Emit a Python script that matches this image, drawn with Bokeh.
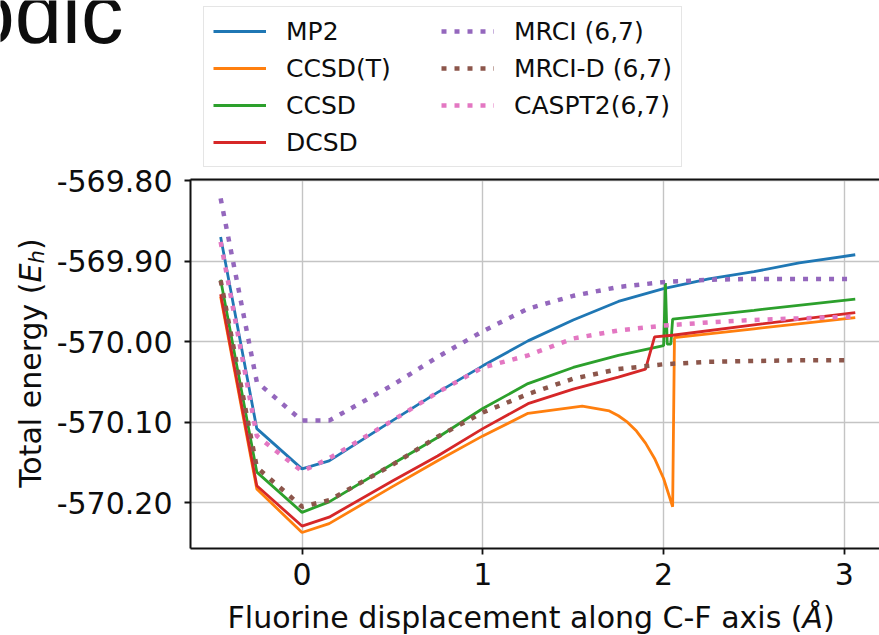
from bokeh.plotting import figure
from bokeh.models import (FixedTicker, PrintfTickFormatter, Legend, LegendItem, Label,
                          LinearAxis, Range1d)
from bokeh.embed import file_html
from bokeh.resources import INLINE
import math

# ---------------- data ----------------
x_common = [-0.45, -0.25, 0.0, 0.15, 0.5, 0.75, 1.0, 1.25, 1.5, 1.75, 2.0, 2.25, 2.5, 2.75, 3.06]

mp2_x = x_common
mp2_y = [-569.870, -570.108, -570.158, -570.148, -570.098, -570.063, -570.030, -569.999,
         -569.973, -569.950, -569.934, -569.922, -569.913, -569.902, -569.892]

ccsdt_x = [-0.45, -0.25, 0.0, 0.15, 0.5, 0.75, 1.0, 1.25, 1.55, 1.7, 1.75, 1.8, 1.85, 1.9,
           1.95, 2.0, 2.05, 2.06, 2.5, 3.06]
ccsdt_y = [-569.944, -570.183, -570.237, -570.226, -570.180, -570.148, -570.117, -570.089,
           -570.080, -570.086, -570.092, -570.100, -570.111, -570.126, -570.145, -570.170,
           -570.205, -569.995, -569.984, -569.970]

ccsd_x = [-0.45, -0.25, 0.0, 0.15, 0.5, 0.75, 1.0, 1.25, 1.5, 1.75, 2.0, 2.01, 2.02, 2.04,
          2.05, 2.5, 3.06]
ccsd_y = [-569.923, -570.162, -570.212, -570.199, -570.152, -570.119, -570.083, -570.052,
          -570.032, -570.017, -570.005, -569.927, -570.003, -570.003, -569.972, -569.961,
          -569.947]

dcsd_x = [-0.45, -0.25, 0.0, 0.15, 0.5, 0.75, 1.0, 1.25, 1.5, 1.75, 1.9, 1.95, 2.05, 2.5, 3.06]
dcsd_y = [-569.941, -570.179, -570.229, -570.218, -570.173, -570.142, -570.108, -570.077,
          -570.059, -570.044, -570.034, -569.994, -569.992, -569.979, -569.964]

mrci_x = [-0.45, -0.25, 0.0, 0.15, 0.5, 0.75, 1.0, 1.25, 1.5, 1.75, 2.0, 2.25, 2.5, 2.75, 3.05]
mrci_y = [-569.822, -570.050, -570.098, -570.098, -570.054, -570.019, -569.987, -569.959,
          -569.943, -569.932, -569.926, -569.923, -569.922, -569.922, -569.922]

mrcid_x = [-0.45, -0.25, 0.0, 0.15, 0.5, 0.75, 1.0, 1.25, 1.5, 1.75, 2.0, 2.25, 2.5, 2.75, 3.03]
mrcid_y = [-569.924, -570.156, -570.205, -570.197, -570.153, -570.118, -570.088, -570.065,
           -570.046, -570.034, -570.028, -570.025, -570.024, -570.023, -570.023]

caspt2_x = [-0.45, -0.25, 0.0, 0.15, 0.5, 0.75, 1.0, 1.25, 1.5, 1.75, 2.0, 2.25, 2.5, 2.75, 3.05]
caspt2_y = [-569.876, -570.117, -570.161, -570.145, -570.098, -570.063, -570.032, -570.017,
            -569.996, -569.986, -569.980, -569.976, -569.973, -569.971, -569.969]

x_ticks = [0, 1, 2, 3]
y_ticks = [-570.20, -570.10, -570.00, -569.90, -569.80]

labels_solid = ["MP2", "CCSD(T)", "CCSD", "DCSD"]
labels_dotted = ["MRCI (6,7)", "MRCI-D (6,7)", "CASPT2(6,7)"]

# axes box (data limits of the plotted area)
box_x = (-0.6167, 3.194)
box_y = (-570.2573, -569.7989)

# ---------------- figure ----------------
FONT = "DejaVu Sans"
TXT = "#0d0d0d"
W, H = 879, 635

p = figure(width=W, height=H, output_backend="svg", toolbar_location=None,
           x_range=Range1d(-1.6676, 3.1941), y_range=Range1d(-570.36497, -569.57615),
           min_border_left=0, min_border_right=0, min_border_top=0, min_border_bottom=0,
           x_axis_location=None, y_axis_location=None)
p.outline_line_color = None
p.background_fill_color = "white"
p.border_fill_color = "white"


def style_axis(ax):
    ax.axis_line_width = 2
    ax.axis_line_color = "#111111"
    ax.major_tick_out = 6
    ax.major_tick_in = 0
    ax.major_tick_line_width = 1.8
    ax.major_tick_line_color = "#111111"
    ax.minor_tick_line_color = None
    ax.major_label_text_font = FONT
    ax.major_label_text_font_size = "30px"
    ax.major_label_text_color = TXT


xax = LinearAxis(ticker=FixedTicker(ticks=x_ticks), fixed_location=box_y[0], bounds=box_x)
style_axis(xax)
xax.major_label_standoff = 8
p.add_layout(xax, "below")

yax = LinearAxis(ticker=FixedTicker(ticks=y_ticks), fixed_location=box_x[0], bounds=box_y,
                 formatter=PrintfTickFormatter(format="%.2f"))
style_axis(yax)
yax.major_label_standoff = 12
p.add_layout(yax, "left")

top = LinearAxis(ticker=FixedTicker(ticks=[]), fixed_location=box_y[1], bounds=box_x,
                 axis_line_width=2, axis_line_color="#111111", major_tick_line_color=None,
                 minor_tick_line_color=None, major_label_text_font_size="0px")
p.add_layout(top, "above")

p.xgrid.ticker = FixedTicker(ticks=x_ticks)
p.ygrid.ticker = FixedTicker(ticks=y_ticks)
p.xgrid.cross_bounds = box_y
p.ygrid.cross_bounds = box_x
p.grid.grid_line_color = "#c4c4c4"
p.grid.grid_line_width = 1.4

# ---------------- lines ----------------
SW = 2.8
DW = 4.5
DASH = "5 8"
r_mp2 = p.line(mp2_x, mp2_y, color="#1f77b4", line_width=SW)
r_ccsdt = p.line(ccsdt_x, ccsdt_y, color="#ff7f0e", line_width=SW)
r_ccsd = p.line(ccsd_x, ccsd_y, color="#2ca02c", line_width=SW)
r_dcsd = p.line(dcsd_x, dcsd_y, color="#d62728", line_width=SW)
r_mrci = p.line(mrci_x, mrci_y, color="#9467bd", line_width=DW, line_dash=DASH)
r_mrcid = p.line(mrcid_x, mrcid_y, color="#8c564b", line_width=DW, line_dash=DASH)
r_caspt2 = p.line(caspt2_x, caspt2_y, color="#e377c2", line_width=DW, line_dash=DASH)

renderers = [r_mp2, r_ccsdt, r_ccsd, r_dcsd, r_mrci, r_mrcid, r_caspt2]
items = [LegendItem(label=l, renderers=[r])
         for l, r in zip(labels_solid + labels_dotted, renderers)]
legend = Legend(items=items, location=(203, H - 167), ncols=2,
                label_text_font=FONT, label_text_font_size="25px", label_text_color=TXT,
                glyph_width=53, glyph_height=30, label_height=30, label_width=148,
                label_standoff=20, spacing=7, padding=9, margin=0,
                border_line_color="#cccccc", border_line_width=1.5,
                background_fill_color="white", background_fill_alpha=1.0)
p.add_layout(legend)


# ---------------- titles (screen units, canvas = frame) ----------------
def lab(text, x, y, size="30px", style="normal", angle=0.0, align="left", font=FONT):
    p.add_layout(Label(x=x, y=y, x_units="screen", y_units="screen", text=text,
                       text_font=font, text_font_size=size, text_font_style=style,
                       text_color=TXT, angle=angle, text_baseline="alphabetic",
                       text_align=align))


# x title: junction between the upright part and the italic Å
xb = 18
jx = 802
lab("Fluorine displacement along C-F axis (", jx, xb, align="right")
lab("Å", jx, xb, style="italic")
lab(")", jx + 20.5, xb)

# y title (rotated, reading upward)
ang = math.pi / 2
bx = 30
jy = H - 282
lab("Total energy (", bx, jy, angle=ang, align="right")
lab("E", bx, jy, style="italic", angle=ang)
lab("h", bx + 6, jy + 19, size="21px", style="italic", angle=ang)
lab(")", bx, jy + 19 + 13.5, angle=ang)

# cropped title fragment at the top-left corner
lab("odic", -33, H - 13, size="85px", font="Liberation Sans")

open("out.html", "w").write(file_html(p, INLINE))
